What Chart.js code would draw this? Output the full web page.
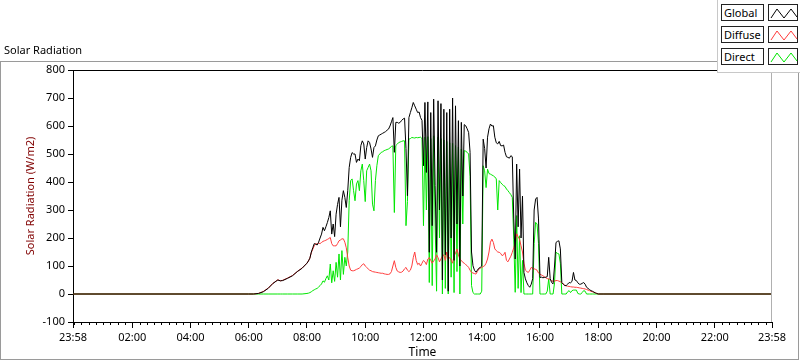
<!DOCTYPE html>
<html>
<head>
<meta charset="utf-8">
<script src="https://cdn.jsdelivr.net/npm/chart.js@4"></script>
<style>
  body { margin: 0; background: #fff; font-family: "Noto Sans", sans-serif; }
  #wrap { position: relative; width: 800px; height: 361px; overflow: hidden; }
  #solarChart { position: absolute; left: 0; top: 0; }
  #title { position: absolute; left: 4px; top: 42px; font-size: 11px; color: #000; }
  #legend { position: absolute; left: 717px; top: 0; width: 83px; height: 73px; background: #fff;
            border-left: 1px solid #c8c8c8; border-bottom: 1px solid #c8c8c8; box-sizing: border-box; }
  .row { position: absolute; left: 3px; width: 78px; height: 17px; }
  .lbl { position: absolute; left: 0; top: 0; width: 43px; height: 17px; border: 1px solid #222;
         box-sizing: border-box; font-size: 11px; line-height: 15px; padding-left: 2px; color: #000; }
  .sw { position: absolute; left: 47px; top: 0; width: 30px; height: 17px; border: 1px solid #222; box-sizing: border-box; }
  .sw svg { position: absolute; left: 0; top: 0; }
</style>
</head>
<body>
<div id="wrap">
  <canvas id="solarChart" width="800" height="361"></canvas>
  <div id="title">Solar Radiation</div>
  <div id="legend"></div>
</div>
<script>
// time of day in minutes (-2 = 23:58 of the previous day)
const timeMin = [
  -2, 0, 360, 370, 380, 390, 400, 410, 420, 425, 430, 440, 450, 460, 470,
  480, 483, 486, 489, 492, 495, 498, 501, 504, 507, 510, 513, 516, 519, 522, 525, 528,
  531, 534, 537, 540, 543, 546, 549, 552, 555, 558, 561, 564, 567, 570, 573, 576, 579,
  582, 585, 588, 591, 594, 597, 600, 603, 606, 609, 612, 615, 618, 621, 624, 627, 630,
  633, 636, 639, 642, 645, 648, 651, 654, 657, 660, 663, 666, 669, 672, 675, 678, 681,
  684, 687, 690, 693, 696, 699, 702, 705, 708, 711, 714, 717, 720, 723, 726, 729, 732,
  735, 738, 741, 744, 747, 750, 753, 756, 759, 762, 765, 768, 771, 774, 777, 780, 783,
  786, 789, 792, 795, 798, 801, 804, 807, 810, 813, 816, 819, 822, 825, 828, 831, 834,
  837, 840, 843, 846, 849, 852, 855, 858, 861, 864, 867, 870, 873, 876, 879, 882, 885,
  888, 891, 894, 897, 900, 903, 906, 909, 912, 915, 918, 921, 924, 927, 930, 933, 936,
  939, 942, 945, 948, 951, 954, 957, 960, 963, 966, 969, 972, 975, 978, 981, 984, 987,
  990, 993, 996, 999, 1002, 1005, 1008, 1011, 1014, 1017, 1020, 1023, 1026, 1029, 1032, 1035, 1038,
  1041, 1044, 1047, 1050, 1053, 1056, 1059, 1062, 1065, 1068, 1071, 1074, 1077, 1080, 1090, 1438
];

const globalWm2 = [
  0, 0, 0, 0, 2, 8, 20, 38, 50, 47, 48, 56, 65, 80, 92,
  110, 118, 128, 150, 165, 180, 178, 175, 185, 200, 214, 238, 226, 240, 255, 273, 297,
  214, 250, 205, 285, 320, 345, 240, 335, 369, 345, 309, 369, 452, 488, 505, 500, 500,
  470, 482, 476, 530, 547, 536, 482, 523, 547, 541, 518, 488, 523, 529, 550, 565, 568,
  571, 574, 577, 580, 585, 589, 600, 615, 630, 506, 613, 613, 610, 613, 620, 625, 628,
  520, 351, 630, 648, 665, 684, 672, 660, 648, 650, 630, 620, 458, 684, 434, 686, 149,
  648, 244, 696, 387, 149, 690, 300, 680, 50, 660, 140, 648, 10, 660, 200, 700, 120,
  672, 250, 619, 100, 613, 350, 605, 601, 590, 577, 506, 150, 101, 85, 78, 85, 92,
  95, 100, 553, 520, 450, 560, 590, 607, 600, 601, 560, 540, 536, 545, 530, 529, 532,
  506, 490, 488, 485, 494, 490, 268, 125, 464, 240, 446, 200, 350, 77, 54, 40, 30,
  24, 35, 55, 300, 339, 345, 268, 59, 60, 58, 59, 60, 62, 131, 55, 41, 36,
  100, 184, 188, 190, 161, 41, 35, 30, 30, 35, 41, 40, 45, 77, 50, 48, 40,
  35, 35, 38, 41, 35, 24, 20, 16, 12, 10, 7, 4, 2, 0, 0, 0
];

const diffuseWm2 = [
  0, 0, 0, 0, 2, 9, 21, 38, 51, 47, 49, 57, 66, 80, 93,
  110, 118, 128, 148, 160, 172, 180, 178, 182, 180, 184, 188, 190, 192, 195, 198, 202,
  180, 172, 172, 172, 180, 190, 193, 197, 197, 185, 165, 130, 100, 85, 83, 83, 85,
  88, 90, 93, 98, 105, 108, 100, 95, 90, 85, 83, 80, 79, 78, 77, 76, 75,
  74, 74, 72, 71, 70, 70, 72, 80, 100, 119, 95, 82, 79, 77, 78, 82, 90,
  95, 85, 80, 85, 100, 130, 150, 120, 105, 110, 100, 110, 120, 115, 105, 125, 130,
  120, 110, 118, 125, 140, 130, 115, 125, 135, 140, 120, 150, 125, 130, 120, 110, 137,
  145, 161, 140, 125, 120, 113, 110, 105, 101, 95, 85, 77, 75, 73, 71, 80, 89,
  92, 95, 98, 101, 110, 125, 150, 185, 196, 184, 161, 155, 150, 149, 145, 137, 140,
  149, 120, 115, 125, 135, 149, 165, 184, 215, 205, 195, 172, 150, 110, 85, 80, 77,
  85, 95, 92, 90, 88, 85, 75, 71, 68, 65, 62, 58, 55, 54, 52, 48, 45,
  46, 48, 48, 46, 44, 40, 36, 32, 29, 28, 27, 26, 25, 25, 24, 24, 23,
  22, 21, 20, 19, 18, 16, 14, 12, 10, 8, 6, 4, 2, 0, 0, 0
];

const directWm2 = [
  0, 0, 0, 0, 0, 0, 0, 0, 0, 0, 0, 0, 0, 0, 0,
  2, 3, 5, 8, 12, 15, 18, 20, 25, 30, 36, 47, 42, 55, 65, 50, 107,
  40, 83, 45, 113, 60, 143, 50, 155, 70, 131, 100, 150, 333, 405, 411, 369, 333,
  393, 405, 369, 440, 464, 405, 330, 440, 452, 464, 440, 321, 297, 405, 458, 494, 500,
  506, 508, 512, 514, 516, 518, 522, 527, 529, 291, 530, 535, 541, 543, 545, 547, 547,
  244, 330, 553, 555, 559, 558, 557, 559, 558, 559, 560, 555, 244, 560, 300, 562, 41,
  555, 30, 565, 250, 10, 560, 200, 555, 0, 550, 20, 545, 0, 540, 60, 538, 5,
  530, 80, 525, 0, 518, 250, 512, 510, 506, 500, 420, 30, 5, 0, 0, 0, 0,
  0, 10, 458, 440, 380, 446, 430, 428, 425, 422, 418, 411, 300, 405, 398, 392, 387,
  384, 375, 369, 362, 355, 345, 196, 6, 280, 20, 208, 5, 120, 0, 0, 0, 0,
  0, 0, 0, 180, 256, 250, 180, 0, 0, 0, 0, 0, 10, 54, 0, 0, 0,
  40, 149, 145, 143, 110, 0, 0, 0, 0, 8, 12, 5, 12, 14, 14, 14, 2,
  0, 0, 5, 12, 10, 0, 0, 0, 0, 0, 0, 0, 0, 0, 0, 0
];

const yTicks = [-100, 0, 100, 200, 300, 400, 500, 600, 700, 800];
const xTickMins = [-2, 120, 240, 360, 480, 600, 720, 840, 960, 1080, 1200, 1320, 1438];
const xTickLabels = ["23:58", "02:00", "04:00", "06:00", "08:00", "10:00", "12:00",
                     "14:00", "16:00", "18:00", "20:00", "22:00", "23:58"];

const seriesNames = ["Global", "Diffuse", "Direct"];
const seriesColors = ["#000000", "#ff3c3c", "#00e600"];

// legend boxes like the LabVIEW plot legend
const legend = document.getElementById("legend");
seriesNames.forEach((name, i) => {
  const row = document.createElement("div");
  row.className = "row";
  row.style.top = (4 + i * 22) + "px";
  row.innerHTML =
    '<div class="lbl">' + name + '</div>' +
    '<div class="sw"><svg width="30" height="17"><polyline points="2,13 8,4 15,13 22,4 28,12" ' +
    'fill="none" stroke="' + seriesColors[i] + '" stroke-width="1"/></svg></div>';
  legend.appendChild(row);
});

const seriesData = [globalWm2, diffuseWm2, directWm2];

const framePlugin = {
  id: "frame",
  beforeDraw(chart) {
    const c = chart.ctx;
    c.save();
    c.strokeStyle = "#9a9a9a";
    c.lineWidth = 1;
    c.strokeRect(0.5, 61.5, 798, 298);
    c.restore();
  },
  afterDraw(chart) {
    const c = chart.ctx;
    const a = chart.chartArea;
    const xs = chart.scales.x;
    c.save();
    c.lineWidth = 1;
    c.strokeStyle = "#000";
    c.beginPath();
    c.moveTo(a.left, a.top + 0.5);
    c.lineTo(a.right, a.top + 0.5);
    c.stroke();
    c.strokeStyle = "#b0b0b0";
    c.beginPath();
    c.moveTo(a.right - 0.5, a.top);
    c.lineTo(a.right - 0.5, a.bottom);
    c.stroke();
    // minor ticks every 15 minutes
    c.strokeStyle = "#000";
    c.beginPath();
    for (let m = 0; m <= 1438; m += 15) {
      if (m % 120 === 0 && m > 0) continue;
      const px = Math.round(xs.getPixelForValue(m)) + 0.5;
      c.moveTo(px, a.bottom);
      c.lineTo(px, a.bottom + 3);
    }
    c.stroke();
    c.restore();
  }
};

new Chart(document.getElementById("solarChart"), {
  type: "line",
  data: {
    datasets: seriesNames.map((name, i) => ({
      label: name,
      data: timeMin.map((t, k) => ({ x: t, y: seriesData[i][k] })),
      borderColor: seriesColors[i],
      borderWidth: 1,
      pointRadius: 0,
      tension: 0,
      fill: false,
    })),
  },
  options: {
    responsive: false,
    animation: false,
    layout: { padding: { left: 0, right: 28, top: 70, bottom: 0 } },
    plugins: { legend: { display: false }, tooltip: { enabled: false } },
    scales: {
      x: {
        type: "linear",
        min: -2,
        max: 1438,
        afterBuildTicks: (s) => { s.ticks = xTickMins.map((v) => ({ value: v })); },
        afterFit: (s) => { s.height = 39; },
        ticks: {
          autoSkip: false,
          maxRotation: 0,
          padding: 3,
          color: "#000",
          font: { family: "Noto Sans", size: 11 },
          callback: (v, i) => xTickLabels[i],
        },
        grid: { drawOnChartArea: false, tickLength: 6, color: "#000" },
        border: { color: "#000" },
        title: {
          display: true,
          text: "Time",
          color: "#000",
          font: { family: "Noto Sans", size: 12 },
          padding: { top: 0, bottom: 1 },
        },
      },
      y: {
        min: -100,
        max: 800,
        afterBuildTicks: (s) => { s.ticks = yTicks.map((v) => ({ value: v })); },
        afterFit: (s) => { s.width = 73; },
        ticks: {
          padding: 3,
          color: "#000",
          font: { family: "Noto Sans", size: 11 },
        },
        grid: { drawOnChartArea: false, tickLength: 5, color: "#000" },
        border: { color: "#000" },
        title: {
          display: true,
          text: "Solar Radiation (W/m2)",
          color: "#800000",
          font: { family: "Noto Sans", size: 11 },
          padding: { top: 24, bottom: 0 },
        },
      },
    },
  },
  plugins: [framePlugin],
});
</script>
</body>
</html>
